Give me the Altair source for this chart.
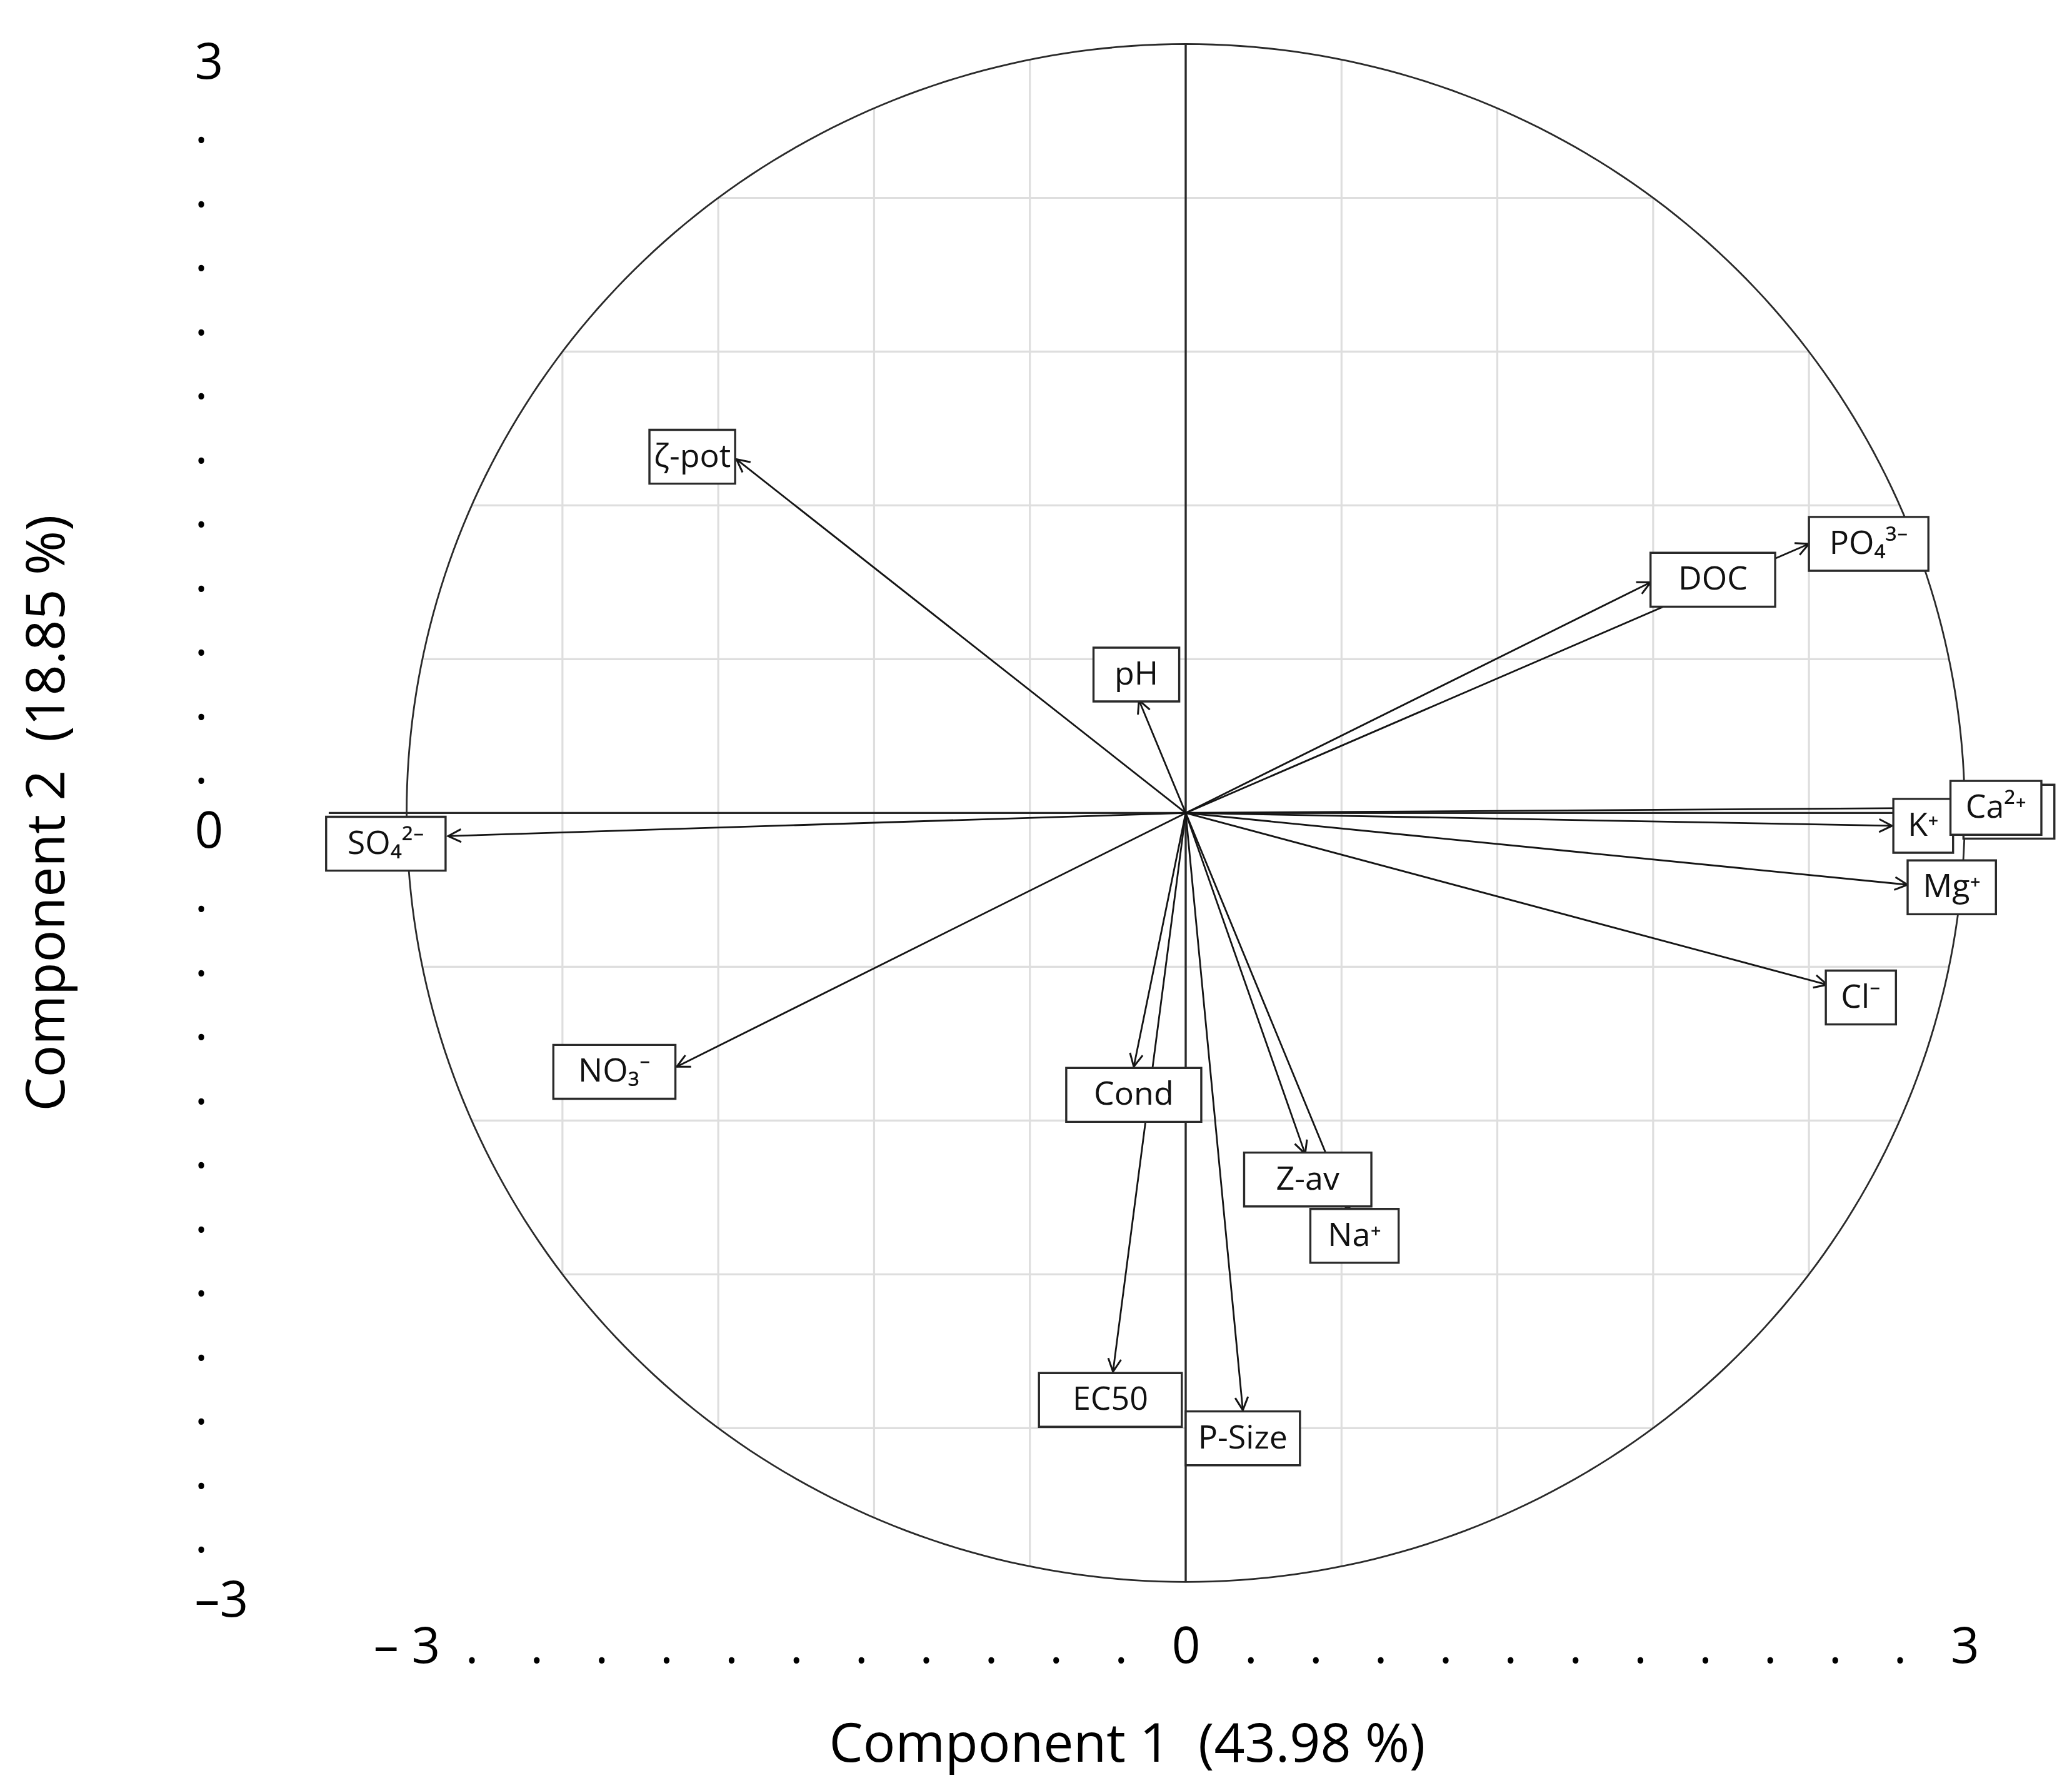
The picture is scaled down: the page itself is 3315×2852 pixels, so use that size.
import math
import altair as alt
import pandas as pd

# ---- data (PCA loadings, component 1 / component 2) ----
variables = ["ζ-pot", "pH", "DOC", "PO₄³⁻", "K⁺", "Ca²⁺", "Mg⁺", "Cl⁻",
             "SO₄²⁻", "NO₃⁻", "Cond", "EC50", "P-Size", "Z-av", "Na⁺"]
pc1 = [-1.73, -0.18, 1.79, 2.40, 2.72, 2.95, 2.78, 2.47,
       -2.84, -1.96, -0.20, -0.28, 0.22, 0.46, 0.63]
pc2 = [1.38, 0.44, 0.90, 1.05, -0.05, 0.02, -0.28, -0.67,
       -0.09, -0.99, -0.99, -2.18, -2.33, -1.33, -1.55]
# label box centres (data units) and box widths
label_x = [-1.90, -0.19, 2.03, 2.63, 2.84, 3.12, 2.95, 2.60,
           -3.08, -2.20, -0.20, -0.29, 0.22, 0.47, 0.65]
label_y = [1.39, 0.54, 0.91, 1.05, -0.05, 0.02, -0.29, -0.72,
           -0.12, -1.01, -1.10, -2.29, -2.44, -1.43, -1.65]
box_w = [0.33, 0.33, 0.48, 0.46, 0.23, 0.35, 0.34, 0.27,
         0.46, 0.47, 0.52, 0.55, 0.44, 0.49, 0.34]
# a label box hidden behind Ca2+ (only its edge is visible)
hidden_x = [3.17]
hidden_y = [0.005]
hidden_w = [0.35]

grid_values = [-2.4, -1.8, -1.2, -0.6, 0.6, 1.2, 1.8, 2.4]
tick_values = [i * 0.25 for i in range(-12, 13)]
R = 3.0

# ---- layout constants ----
XDOM = [-3.36, 3.36]
YDOM = [-3.07, 3.05]
W, H = 2792, 2509
KX = W / (XDOM[1] - XDOM[0])
KY = H / (YDOM[1] - YDOM[0])
BOX_H = 0.21
FONT = "Open Sans"
DARK = "#151515"

xs = alt.Scale(domain=XDOM, nice=False, zero=False)
ys = alt.Scale(domain=YDOM, nice=False, zero=False)

x_axis = alt.Axis(
    values=tick_values,
    labelExpr="datum.value == 3 ? '3' : datum.value == 0 ? '0' : datum.value == -3 ? '\u2013\u00a03' : '.'",
    labelFont=FONT, labelFontSize=80, labelColor="#000000",
    labelBaseline="alphabetic", labelAlign="center", labelPadding=100,
    labelOverlap=False, labelFlush=False,
    ticks=False, tickSize=0, domain=False, grid=False,
    title="Component 1\u00a0\u00a0(43.98 %)", titleFont=FONT, titleFontSize=86,
    titleFontWeight="normal", titleColor="#000000",
    titleX=1302, titleY=232, titleAlign="center", titleBaseline="middle",
)
y_axis = alt.Axis(
    values=tick_values,
    labelExpr="datum.value == 3 ? '3' : datum.value == 0 ? '0' : datum.value == -3 ? '\u20133' : '.'",
    labelFont=FONT, labelFontSize=80, labelColor="#000000",
    labelBaseline="alphabetic", labelAlign="left", labelPadding=190, labelOffset=55,
    labelOverlap=False, labelFlush=False,
    ticks=False, tickSize=0, domain=False, grid=False,
    title="Component 2\u00a0\u00a0(18.85 %)", titleFont=FONT, titleFontSize=86,
    titleFontWeight="normal", titleColor="#000000",
    titleX=-425, titleY=1250, titleAlign="center", titleBaseline="middle",
)


def X(f):
    return alt.X(f, type="quantitative", scale=xs, axis=x_axis)


def Y(f):
    return alt.Y(f, type="quantitative", scale=ys, axis=y_axis)


# ---- tables ----
grid_rows = []
for g in grid_values:
    h = math.sqrt(R * R - g * g)
    grid_rows.append({"x1": g, "x2": g, "y1": -h, "y2": h})
    grid_rows.append({"x1": -h, "x2": h, "y1": g, "y2": g})
grid_df = pd.DataFrame(grid_rows)

circle_df = pd.DataFrame({
    "i": list(range(361)),
    "x": [R * math.cos(math.radians(a)) for a in range(361)],
    "y": [R * math.sin(math.radians(a)) for a in range(361)],
})

axes_df = pd.DataFrame({
    "x1": [0.0, -3.30], "x2": [0.0, 3.32],
    "y1": [-R, 0.0], "y2": [R, 0.0],
})

arrows_df = pd.DataFrame({
    "var": variables, "x0": [0.0] * len(pc1), "y0": [0.0] * len(pc1),
    "x": pc1, "y": pc2,
})
arrows_df["angle"] = [
    math.degrees(math.atan2(-py * KY, px * KX)) % 360 for px, py in zip(pc1, pc2)
]

box_centres_x = hidden_x + label_x
box_centres_y = hidden_y + label_y
box_widths = hidden_w + box_w
boxes_df = pd.DataFrame({
    "bx1": [cx - w / 2 for cx, w in zip(box_centres_x, box_widths)],
    "bx2": [cx + w / 2 for cx, w in zip(box_centres_x, box_widths)],
    "by1": [cy - BOX_H / 2 for cy in box_centres_y],
    "by2": [cy + BOX_H / 2 for cy in box_centres_y],
})

labels_df = pd.DataFrame({"var": variables, "lx": label_x, "ly": label_y})

# ---- layers ----
grid = alt.Chart(grid_df).mark_rule(color="#dedede", strokeWidth=3.2).encode(
    x=X("x1"), x2="x2", y=Y("y1"), y2="y2")

circle = alt.Chart(circle_df).mark_line(color="#2a2a2a", strokeWidth=2.8).encode(
    x=X("x"), y=Y("y"), order="i:Q")

axes_lines = alt.Chart(axes_df).mark_rule(color="#2a2a2a", strokeWidth=3.4).encode(
    x=X("x1"), x2="x2", y=Y("y1"), y2="y2")

arrow_lines = alt.Chart(arrows_df).mark_rule(color=DARK, strokeWidth=2.8).encode(
    x=X("x0"), x2="x", y=Y("y0"), y2="y")

heads = alt.Chart(arrows_df).mark_point(
    shape="M-1,-0.5L0,0L-1,0.5", filled=False, color=DARK, strokeWidth=3,
    size=1700, opacity=1,
).encode(x=X("x"), y=Y("y"), angle=alt.Angle("angle:Q", scale=None))

boxes = alt.Chart(boxes_df).mark_rect(
    fill="white", stroke="#2a2a2a", strokeWidth=3.4).encode(
    x=X("bx1"), x2="bx2", y=Y("by1"), y2="by2")

texts = alt.Chart(labels_df).mark_text(
    font=FONT, fontSize=52, color="#111111", align="center", baseline="middle").encode(
    x=X("lx"), y=Y("ly"), text="var:N")

chart = alt.layer(grid, circle, axes_lines, arrow_lines, heads, boxes, texts).properties(
    width=W, height=H,
    autosize=alt.AutoSizeParams(type="none"),
    padding={"left": 493, "top": 42, "right": 14, "bottom": 285},
    background="white",
).configure_view(stroke=None)

chart.save("out.html", embed_options={"renderer": "svg", "actions": False})
